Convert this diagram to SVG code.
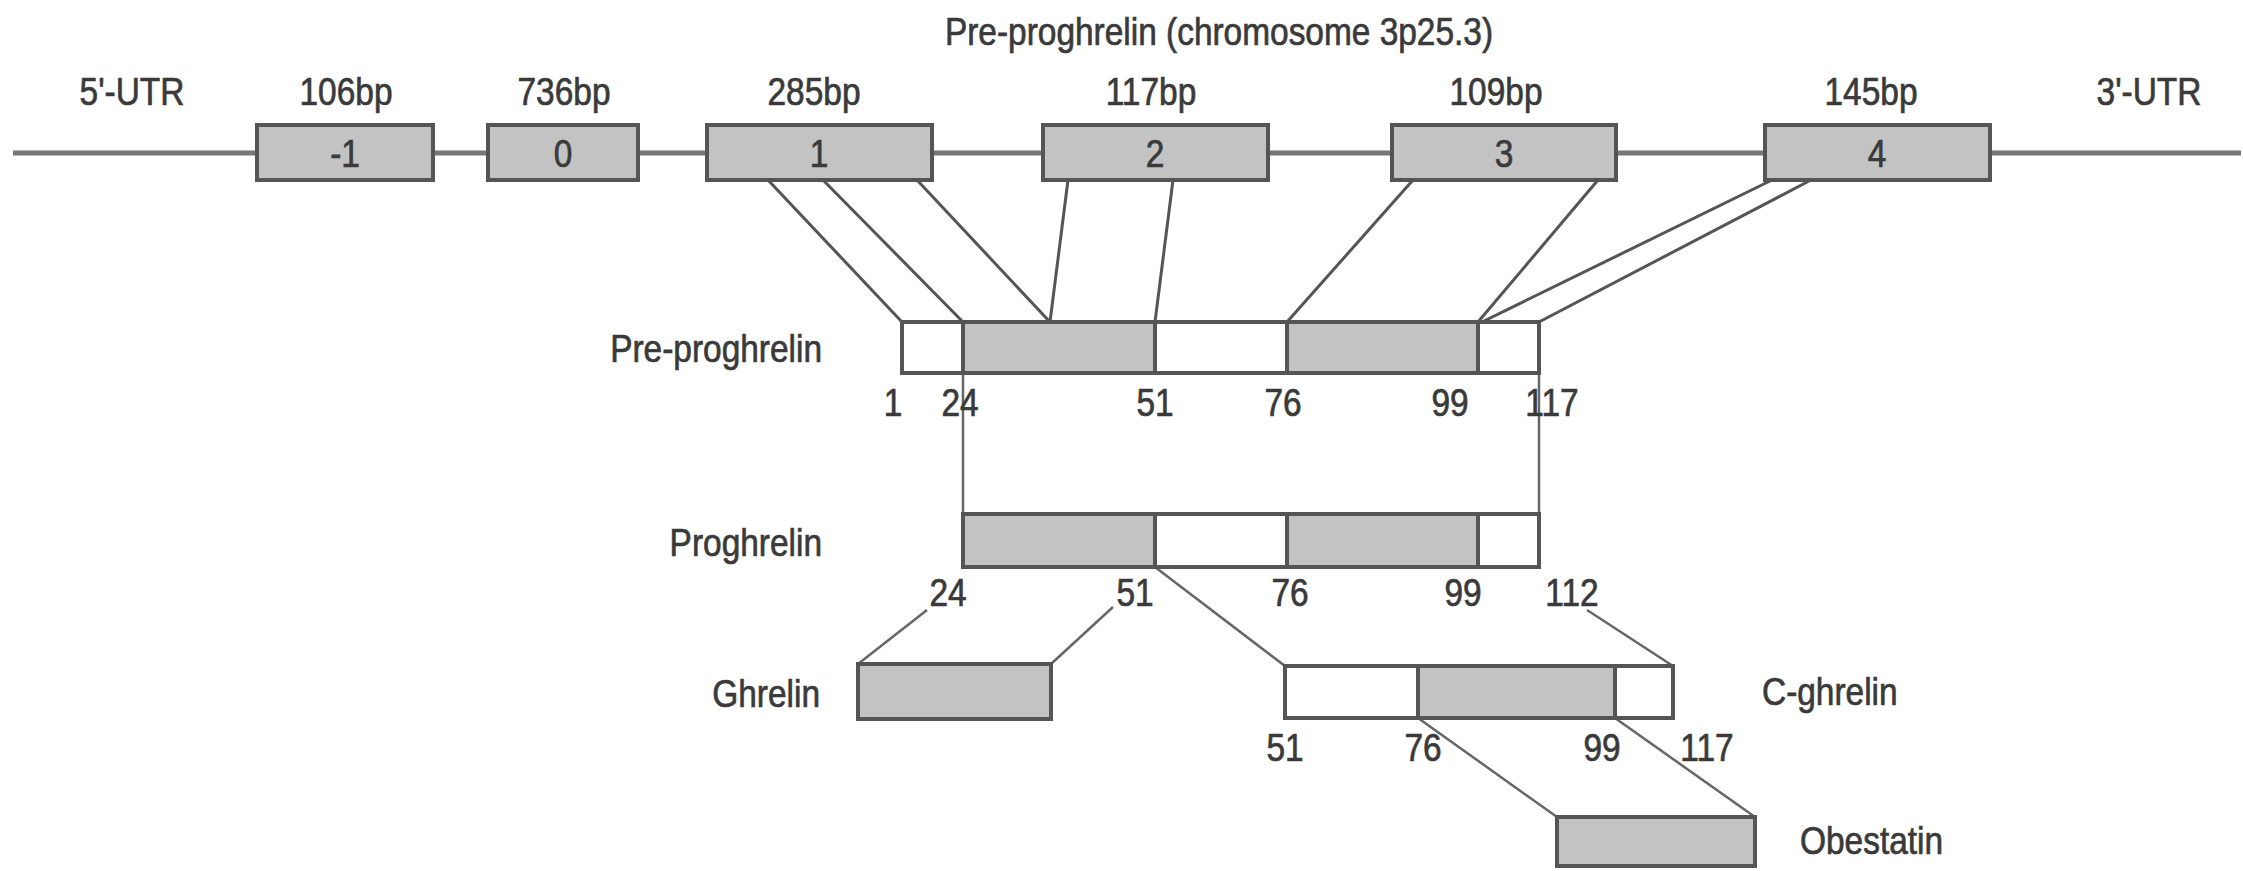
<svg xmlns="http://www.w3.org/2000/svg" width="2243" height="871" viewBox="0 0 2243 871">
<style>
.t{font-family:"Liberation Sans",Arial,sans-serif;font-size:38px;fill:#3a3a3a;stroke:#3a3a3a;stroke-width:0.7}
.m{text-anchor:middle}
.e{text-anchor:end}
.g{fill:#c3c3c3;stroke:#555;stroke-width:4}
.w{fill:#fff;stroke:#555;stroke-width:4}
.c{stroke:#555;stroke-width:3;fill:none}
.c2{stroke:#666;stroke-width:2.5;fill:none}
.axis{stroke:#777;stroke-width:5}
</style>
<rect width="2243" height="871" fill="#fff"/>
<text class="t m" transform="translate(1219,45) scale(0.88,1)">Pre-proghrelin (chromosome 3p25.3)</text>
<g id="gene">
<line class="axis" x1="13" y1="153" x2="2241" y2="153"/>
<text class="t m" transform="translate(132,105) scale(0.88,1)">5'-UTR</text>
<text class="t m" transform="translate(2149,105) scale(0.88,1)">3'-UTR</text>
</g>
<g id="exon-1"><rect class="g" x="257" y="125" width="176" height="55"/><text class="t m" transform="translate(346,105) scale(0.88,1)">106bp</text><text class="t m" transform="translate(345,167) scale(0.88,1)">-1</text></g>
<g id="exon0"><rect class="g" x="488" y="125" width="150" height="55"/><text class="t m" transform="translate(564,105) scale(0.88,1)">736bp</text><text class="t m" transform="translate(563,167) scale(0.88,1)">0</text></g>
<g id="exon1"><rect class="g" x="707" y="125" width="225" height="55"/><text class="t m" transform="translate(814,105) scale(0.88,1)">285bp</text><text class="t m" transform="translate(819,167) scale(0.88,1)">1</text></g>
<g id="exon2"><rect class="g" x="1043" y="125" width="225" height="55"/><text class="t m" transform="translate(1151,105) scale(0.88,1)">117bp</text><text class="t m" transform="translate(1155,167) scale(0.88,1)">2</text></g>
<g id="exon3"><rect class="g" x="1392" y="125" width="224" height="55"/><text class="t m" transform="translate(1496,105) scale(0.88,1)">109bp</text><text class="t m" transform="translate(1504,167) scale(0.88,1)">3</text></g>
<g id="exon4"><rect class="g" x="1765" y="125" width="225" height="55"/><text class="t m" transform="translate(1871,105) scale(0.88,1)">145bp</text><text class="t m" transform="translate(1877,167) scale(0.88,1)">4</text></g>
<g id="connectors">
<line class="c" x1="768" y1="180" x2="902" y2="322"/>
<line class="c" x1="823" y1="180" x2="963" y2="322"/>
<line class="c" x1="917" y1="180" x2="1050" y2="322"/>
<line class="c" x1="1068" y1="180" x2="1050" y2="322"/>
<line class="c" x1="1173" y1="180" x2="1155" y2="322"/>
<line class="c" x1="1413" y1="180" x2="1287" y2="322"/>
<line class="c" x1="1598" y1="180" x2="1478" y2="322"/>
<line class="c" x1="1772" y1="180" x2="1482" y2="322"/>
<line class="c" x1="1811" y1="180" x2="1539" y2="322"/>
<line class="c2" x1="963" y1="373" x2="963" y2="514"/>
<line class="c2" x1="1539" y1="373" x2="1539" y2="514" stroke="#999"/>
<line class="c2" x1="927" y1="610" x2="858" y2="664"/>
<line class="c2" x1="1113" y1="607" x2="1051" y2="664"/>
<line class="c2" x1="1155" y1="567" x2="1285" y2="666"/>
<line class="c2" x1="1587" y1="610" x2="1673" y2="666"/>
<line class="c2" x1="1418" y1="718" x2="1557" y2="817"/>
<line class="c2" x1="1615" y1="718" x2="1755" y2="817"/>
</g>
<g id="pre-proghrelin">
<rect class="w" x="902" y="322" width="637" height="51"/>
<rect class="g" x="963" y="322" width="192" height="51"/>
<rect class="g" x="1287" y="322" width="191" height="51"/>
<text class="t e" transform="translate(822,362) scale(0.88,1)">Pre-proghrelin</text>
<text class="t m" transform="translate(893,416) scale(0.88,1)">1</text>
<text class="t m" transform="translate(960,416) scale(0.88,1)">24</text>
<text class="t m" transform="translate(1155,416) scale(0.88,1)">51</text>
<text class="t m" transform="translate(1283,416) scale(0.88,1)">76</text>
<text class="t m" transform="translate(1450,416) scale(0.88,1)">99</text>
<text class="t m" transform="translate(1552,416) scale(0.88,1)">117</text>
</g>
<g id="proghrelin">
<rect class="w" x="963" y="514" width="576" height="53"/>
<rect class="g" x="963" y="514" width="192" height="53"/>
<rect class="g" x="1287" y="514" width="191" height="53"/>
<text class="t e" transform="translate(822,556) scale(0.88,1)">Proghrelin</text>
<text class="t m" transform="translate(948,606) scale(0.88,1)">24</text>
<text class="t m" transform="translate(1135,606) scale(0.88,1)">51</text>
<text class="t m" transform="translate(1290,606) scale(0.88,1)">76</text>
<text class="t m" transform="translate(1463,606) scale(0.88,1)">99</text>
<text class="t m" transform="translate(1572,606) scale(0.88,1)">112</text>
</g>
<g id="ghrelin">
<rect class="g" x="858" y="664" width="193" height="55"/>
<text class="t e" transform="translate(820,707) scale(0.88,1)">Ghrelin</text>
</g>
<g id="c-ghrelin">
<rect class="w" x="1285" y="666" width="388" height="52"/>
<rect class="g" x="1418" y="666" width="197" height="52"/>
<text class="t" transform="translate(1762,705) scale(0.88,1)">C-ghrelin</text>
<text class="t m" transform="translate(1285,761) scale(0.88,1)">51</text>
<text class="t m" transform="translate(1423,761) scale(0.88,1)">76</text>
<text class="t m" transform="translate(1602,761) scale(0.88,1)">99</text>
<text class="t m" transform="translate(1707,761) scale(0.88,1)">117</text>
</g>
<g id="obestatin">
<rect class="g" x="1557" y="817" width="198" height="49"/>
<text class="t" transform="translate(1800,854) scale(0.88,1)">Obestatin</text>
</g>
</svg>
